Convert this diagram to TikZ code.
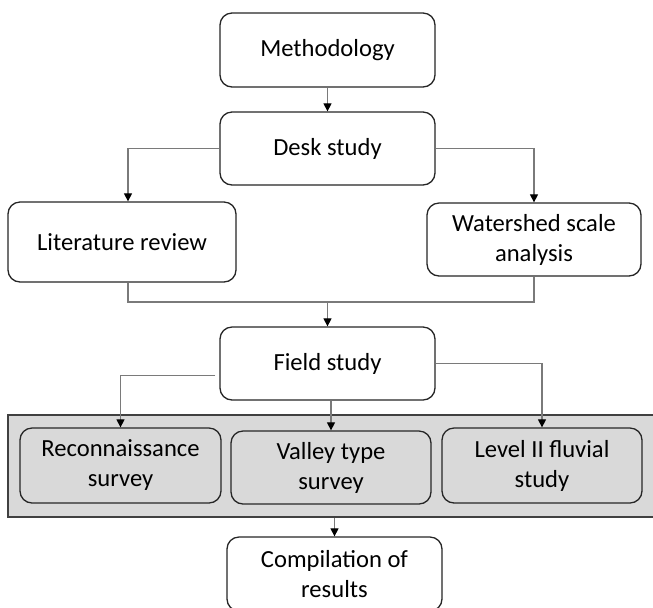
\documentclass[tikz,border=0pt]{standalone}
\usepackage{fontspec}
\setmainfont{Carlito}
\usetikzlibrary{arrows.meta,calc,positioning}
\definecolor{boxgray}{HTML}{D9D9D9}
\definecolor{linegray}{HTML}{7A7A7A}
\tikzset{
  stage/.style={draw=black!85,line width=0.65pt,rounded corners=6pt,fill=white,
    align=center,inner sep=0pt,font=\fontsize{12.3}{15}\selectfont},
  substage/.style={stage,fill=boxgray},
  panel/.style={draw=black!75,line width=0.75pt,fill=boxgray,inner sep=0pt},
  flow/.style={draw=linegray,line width=0.6pt,-{Triangle[black,width=4pt,length=4pt]}},
  joinline/.style={draw=linegray,line width=0.6pt}
}

\begin{document}
\begin{tikzpicture}[x=0.5pt,y=-0.5pt]
\useasboundingbox (0,0) rectangle (653,607);

% Draw the desk study part.
\node (meth) at (327.5,50) [stage,minimum width=107.5pt,minimum height=37pt]{Methodology};
\node (desk) at (327.5,148.5) [stage,minimum width=107.5pt,minimum height=36.5pt]{Desk study};
\node (lit) at (122,242) [stage,minimum width=114pt,minimum height=40pt]{Literature review};
\node (wat) at (534,239.5) [stage,minimum width=107pt,minimum height=36.5pt]{Watershed scale\\analysis};

% Draw the field study part.
\node (field) at (327.5,363.5) [stage,minimum width=107.5pt,minimum height=36.5pt]{Field study};
\node (band) at (334,466) [panel,minimum width=326pt,minimum height=51pt]{};
\node (recon) at (120.5,465.5) [substage,minimum width=100.5pt,minimum height=37.5pt]{Reconnaissance\\survey};
\node (valley) at (331,467.5) [substage,minimum width=100pt,minimum height=36.5pt]{Valley type\\survey};
\node (level) at (542,465.5) [substage,minimum width=100pt,minimum height=37.5pt]{Level II fluvial\\study};
\node (comp) at (334.5,574) [stage,minimum width=107.5pt,minimum height=37pt]{Compilation of\\results};

% Connectors.
\draw[flow] (meth.south) -- (desk.north);
\draw[flow] (desk.west) -| ([xshift=3pt]lit.north);
\draw[flow] (desk.east) -| (wat.north);
\coordinate (merge) at (327.5,302);
\draw[joinline] ([xshift=3pt]lit.south) |- (merge) -| (wat.south);
\draw[flow] (merge) -- (field.north);
\draw[flow] ([xshift=-2pt,yshift=-6pt]field.west) -| (recon.north);
\draw[flow] (field.south -| valley.north) -- (valley.north);
\draw[flow] (field.east) -| (level.north);
\draw[flow] (band.south -| comp.north) -- (comp.north);
\end{tikzpicture}
\end{document}
